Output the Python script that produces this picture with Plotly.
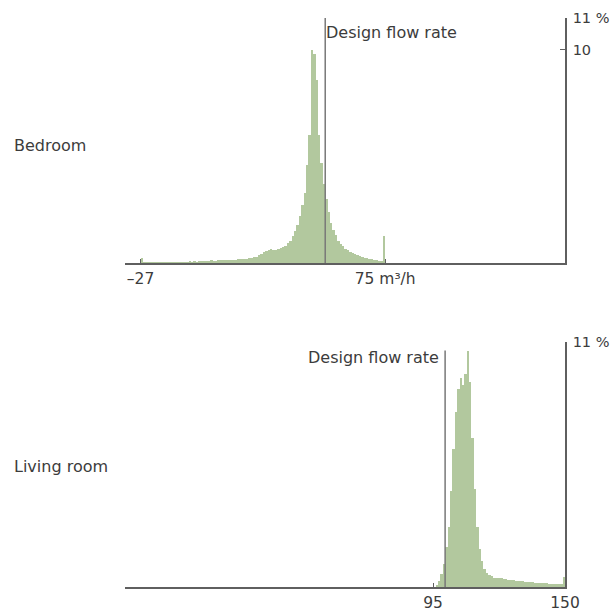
import plotly.graph_objects as go

# ---- data ----
bin_width = 1
bedroom_start = -27
bedroom_pct = [
    0.22,
    0.04, 0.05, 0.04, 0.05, 0.04, 0.05, 0.04,
    0.05, 0.06, 0.05, 0.07, 0.05, 0.06, 0.05, 0.07, 0.06, 0.06,
    0.07, 0.06, 0.08, 0.07, 0.08, 0.07, 0.09, 0.08, 0.10, 0.09,
    0.10, 0.12, 0.10, 0.11, 0.12, 0.13, 0.12, 0.14, 0.13, 0.15,
    0.15, 0.16, 0.17, 0.18, 0.19, 0.20, 0.21, 0.22, 0.24, 0.26,
    0.30, 0.36, 0.42, 0.50, 0.57, 0.62, 0.64, 0.60, 0.63, 0.66,
    0.70, 0.75, 0.82, 0.92, 1.05, 1.25,
    1.50, 1.80, 2.20, 2.70, 3.30, 4.60, 6.00, 10.0, 9.80, 8.60,
    6.00, 4.70, 3.70, 3.00, 2.40, 1.90, 1.55, 1.30, 1.05, 0.90,
    0.78, 0.68, 0.60, 0.53, 0.47, 0.42, 0.37, 0.32, 0.28, 0.25,
    0.22, 0.20, 0.17, 0.15, 0.13, 0.11, 0.10, 1.27,
]
living_start = 96
living_pct = [
    0.10, 0.30, 0.60, 1.10, 1.90, 2.80, 4.50, 6.50, 8.20, 9.30,
    9.80, 9.50, 10.0, 11.1, 9.60, 7.00, 4.60, 2.80, 1.80, 1.20,
    0.85, 0.65, 0.55, 0.50, 0.42, 0.42, 0.40, 0.40, 0.38, 0.36,
    0.34, 0.33, 0.32, 0.30, 0.30, 0.28, 0.26, 0.25, 0.24, 0.23,
    0.22, 0.21, 0.20, 0.19, 0.18, 0.18, 0.17, 0.16, 0.16, 0.15,
    0.15, 0.14, 0.14, 0.45,
]
rooms = ["Bedroom", "Living room"]
design_flow = [50, 100]
design_label = "Design flow rate"
x_range = [-33.5, 150]
y_range = [0, 11.5]
top_xticks = [-27, 75]
top_xticktext = ["–27", "75 m³/h"]
bot_xticks = [95, 150]
bot_xticktext = ["95", "150"]
top_yticks = [10, 11.5]
top_yticktext = ["10", "11 %"]
bot_yticks = [11.5]
bot_yticktext = ["11 %"]

# ---- style ----
BAR = "rgb(178,200,158)"
AX = "rgb(95,95,95)"
TXT = "rgb(60,60,60)"
LINE = "rgb(120,120,120)"
FONT = "DejaVu Sans"

def centers(start, vals):
    return [start + i * bin_width + bin_width / 2 for i in range(len(vals))]

fig = go.Figure()
fig.add_trace(go.Bar(x=centers(bedroom_start, bedroom_pct), y=bedroom_pct,
                     width=bin_width, marker=dict(color=BAR, line=dict(width=0)),
                     xaxis="x", yaxis="y", showlegend=False, hoverinfo="x+y"))
fig.add_trace(go.Bar(x=centers(living_start, living_pct), y=living_pct,
                     width=bin_width, marker=dict(color=BAR, line=dict(width=0)),
                     xaxis="x2", yaxis="y2", showlegend=False, hoverinfo="x+y"))

common_x = dict(range=x_range, showline=True, linecolor=AX, linewidth=1.5,
                showgrid=False, zeroline=False, ticks="inside", ticklen=4,
                tickcolor=AX, tickwidth=1, automargin=False, fixedrange=True,
                tickfont=dict(family=FONT, size=15.5, color=TXT),
                ticklabelstandoff=1)
common_y = dict(range=y_range, side="right", showline=True, linecolor=AX,
                linewidth=1.5, showgrid=False, zeroline=False, ticks="inside",
                ticklen=5, tickcolor=AX, tickwidth=1, automargin=False,
                fixedrange=True, tickfont=dict(family=FONT, size=14.5, color=TXT),
                ticklabelstandoff=3)

fig.update_layout(
    width=613, height=612,
    margin=dict(l=125, r=48, t=18, b=25),
    paper_bgcolor="white", plot_bgcolor="white",
    template="none",
    bargap=0,
    xaxis=dict(common_x, domain=[0, 1], anchor="y",
               tickvals=top_xticks, ticktext=top_xticktext),
    yaxis=dict(common_y, domain=[0.5694, 1], anchor="x",
               tickvals=top_yticks, ticktext=top_yticktext),
    xaxis2=dict(common_x, domain=[0, 1], anchor="y2",
                tickvals=bot_xticks, ticktext=bot_xticktext),
    yaxis2=dict(common_y, domain=[0, 0.4306], anchor="x2",
                tickvals=bot_yticks, ticktext=bot_yticktext),
    showlegend=False,
)

# design flow lines
fig.add_shape(type="line", xref="x", yref="y domain", x0=design_flow[0], x1=design_flow[0],
              y0=0, y1=1, line=dict(color=LINE, width=1.5))
fig.add_shape(type="line", xref="x2", yref="y2 domain", x0=design_flow[1], x1=design_flow[1],
              y0=0, y1=0.965, line=dict(color=LINE, width=1.5))

fig.add_annotation(x=design_flow[0], y=0.94, xref="x", yref="y domain",
                   text=design_label, showarrow=False, xanchor="left", yanchor="middle",
                   xshift=-1, font=dict(family=FONT, size=16, color=TXT))
fig.add_annotation(x=design_flow[1], y=0.935, xref="x2", yref="y2 domain",
                   text=design_label, showarrow=False, xanchor="right", yanchor="middle",
                   xshift=-4, font=dict(family=FONT, size=16, color=TXT))

# room labels
fig.add_annotation(x=-0.257, y=0.48, xref="x domain", yref="y domain",
                   text=rooms[0], showarrow=False, xanchor="left", yanchor="middle",
                   font=dict(family=FONT, size=16, color=TXT))
fig.add_annotation(x=-0.257, y=0.49, xref="x2 domain", yref="y2 domain",
                   text=rooms[1], showarrow=False, xanchor="left", yanchor="middle",
                   font=dict(family=FONT, size=16, color=TXT))

fig.write_html("out.html", config={"displayModeBar": False})
